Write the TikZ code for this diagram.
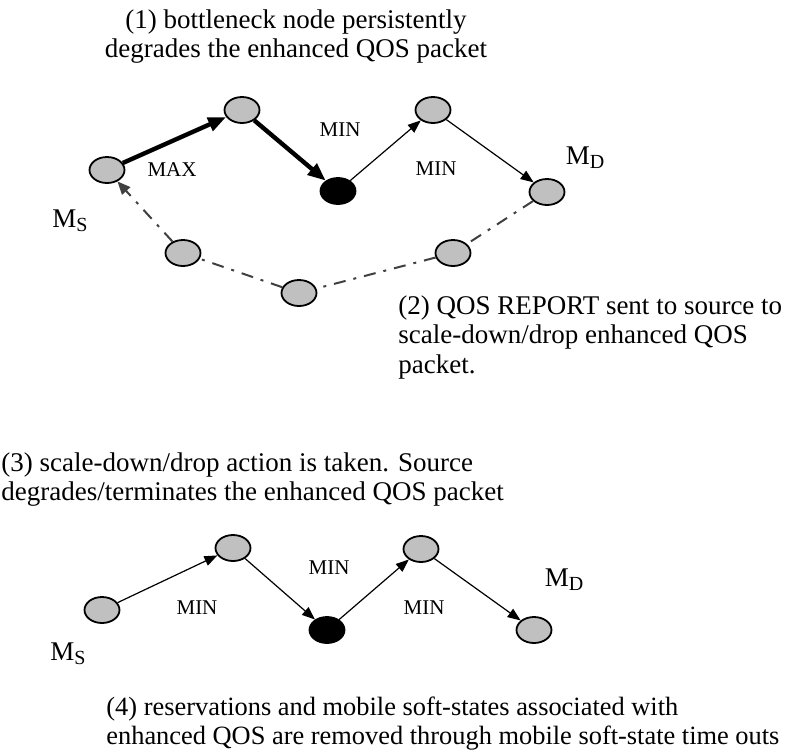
\documentclass[tikz,border=0pt]{standalone}
\usepackage{fontspec}
\setmainfont{Liberation Serif}
\usepackage{tikz}
\usepackage{xcolor}
\usetikzlibrary{shapes.geometric, arrows.meta}

\definecolor{hostgray}{RGB}{192,192,192}
\definecolor{reportgray}{RGB}{64,64,64}

\tikzset{
  host/.style={ellipse, draw, line width=0.9pt, fill=hostgray, minimum width=17.5pt, minimum height=13pt, inner sep=0pt},
  bottleneck/.style={host, fill=black},
  hop/.style={-{Triangle[length=6.5pt,width=5pt]}, line width=0.6pt},
  heavyhop/.style={-{Triangle[length=9pt,width=7pt]}, line width=2.2pt},
  report/.style={-{Triangle[length=6.5pt,width=5.5pt]}, draw=reportgray, line width=1pt, dash pattern=on 6pt off 4pt on 1.5pt off 4pt},
  rate/.style={font=\fontsize{10.5pt}{12pt}\selectfont, inner sep=0pt},
  endpoint/.style={font=\fontsize{13.5pt}{15pt}\selectfont, inner sep=0pt},
  caption/.style={font=\fontsize{13.5pt}{14.75pt}\selectfont, inner sep=0pt},
  widecaption/.style={font=\fontsize{13.2pt}{14.5pt}\selectfont, inner sep=0pt}
}
\newcommand{\mobile}[1]{M\raisebox{-0.3ex}{\fontsize{10pt}{10pt}\selectfont #1}}

\begin{document}
\begin{tikzpicture}[x=0.5pt, y=-0.5pt]
\useasboundingbox (0,0) rectangle (792,751);

% Upper path: bottleneck degrades the packet, report goes back
\node[host] (srcA) at (107,170) {};
\node[host] (hopA1) at (242,110) {};
\node[bottleneck] (bnA) at (338,191) {};
\node[host] (hopA2) at (433,110) {};
\node[host] (dstA) at (547,192) {};
\node[host] (backA1) at (453,253) {};
\node[host] (backA2) at (299,293) {};
\node[host] (backA3) at (183,253) {};

\draw[heavyhop] (srcA) -- (hopA1);
\draw[heavyhop] (hopA1) -- (bnA);
\draw[hop] (bnA) -- (hopA2);
\draw[hop] (hopA2) -- (dstA);
\draw[report] (dstA) -- (backA1) -- (backA2) -- (backA3) -- (srcA);

\node[rate] (maxA) at (172,170) {MAX};
\node[rate] (minA1) at (340,130) {MIN};
\node[rate] (minA2) at (436,169) {MIN};
\node[endpoint] (msA) at (70,221) {\mobile{S}};
\node[endpoint] (mdA) at (585,158) {\mobile{D}};

\node[caption, align=center, anchor=north] (note1) at (296,9)
  {(1) bottleneck node persistently\\degrades the enhanced QOS packet};
\node[caption, align=left, anchor=north west] (note2) at (398,295)
  {(2) QOS REPORT sent to source to\\scale-down/drop enhanced QOS\\packet.};
\node[caption, align=left, anchor=north west] (note3) at (1,452)
  {(3) scale-down/drop action is taken. Source\\degrades/terminates the enhanced QOS packet};

% Lower path: packet scaled down, all hops at MIN
\node[host] (srcB) at (102,610) {};
\node[host] (hopB1) at (233,548) {};
\node[bottleneck] (bnB) at (327,630) {};
\node[host] (hopB2) at (421,549) {};
\node[host] (dstB) at (534,630) {};

\draw[hop] (srcB) -- (hopB1);
\draw[hop] (hopB1) -- (bnB);
\draw[hop] (bnB) -- (hopB2);
\draw[hop] (hopB2) -- (dstB);

\node[rate] (minB1) at (197,608) {MIN};
\node[rate] (minB2) at (329,568) {MIN};
\node[rate] (minB3) at (424,608) {MIN};
\node[endpoint] (msB) at (68,654) {\mobile{S}};
\node[endpoint] (mdB) at (564,580) {\mobile{D}};

\node[widecaption, align=left, anchor=north west] (note4) at (106,696)
  {(4) reservations and mobile soft-states associated with\\enhanced QOS are removed through mobile soft-state time outs};
\end{tikzpicture}
\end{document}
